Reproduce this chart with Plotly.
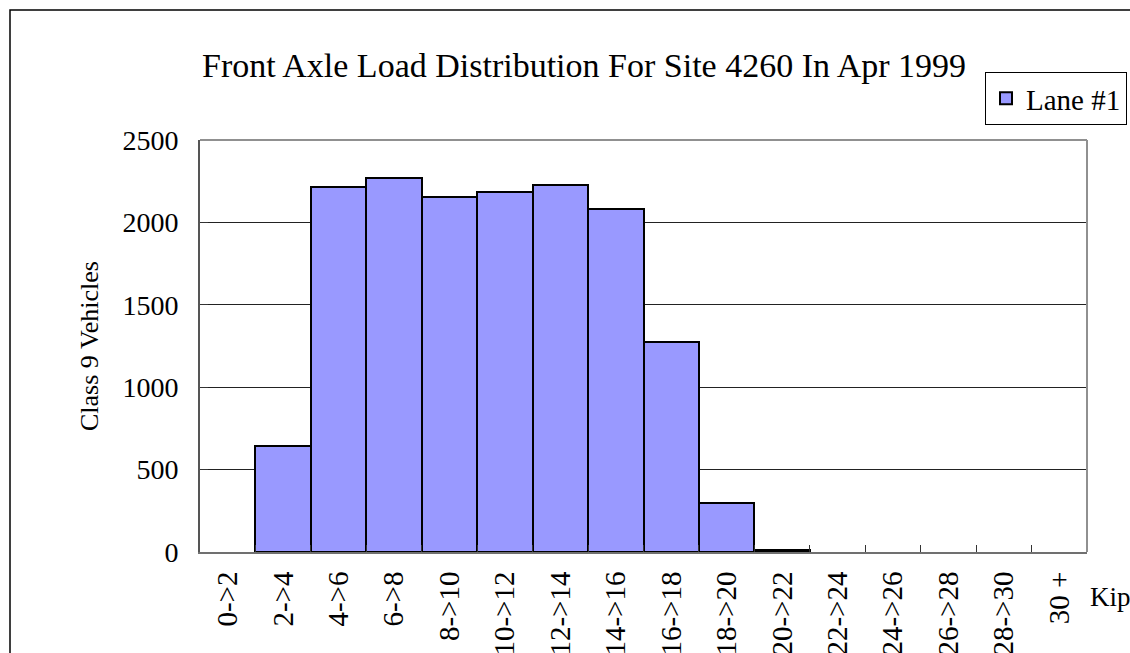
import plotly.graph_objects as go

# load bins (kip) and counts of class 9 vehicles, lane 1
load_bins = ["0->2", "2->4", "4->6", "6->8", "8->10", "10->12", "12->14", "14->16",
             "16->18", "18->20", "20->22", "22->24", "24->26", "26->28", "28->30", "30 +"]
lane1_counts = [0, 645, 2215, 2272, 2155, 2185, 2228, 2082, 1275, 297, 15, 0, 0, 0, 0, 0]
y_ticks = [0, 500, 1000, 1500, 2000, 2500]

serif = "Liberation Serif, Times New Roman, serif"

# empty bins are not drawn (no outline on the axis)
shown = [v if v > 0 else None for v in lane1_counts]

fig = go.Figure()
fig.add_trace(go.Bar(
    x=load_bins, y=shown, name="Lane #1",
    marker=dict(color="#9999FF", line=dict(color="black", width=2)),
))

fig.update_layout(
    width=1130, height=653,
    margin=dict(l=200, r=43, t=140, b=101, autoexpand=False),
    paper_bgcolor="white", plot_bgcolor="white",
    font=dict(family=serif, color="black", size=26),
    bargap=0,
    title=dict(text="Front Axle Load Distribution For Site 4260 In Apr 1999",
               x=584 / 1130, xanchor="center", y=1 - 65 / 653, yanchor="middle",
               font=dict(size=34)),
    showlegend=True,
    legend=dict(xref="container", yref="container",
                x=985 / 1130, y=1 - 72 / 653, xanchor="left", yanchor="top",
                bordercolor="black", borderwidth=1, bgcolor="white",
                font=dict(size=29), itemwidth=30),
    xaxis=dict(
        type="category", tickangle=-90, tickson="boundaries",
        ticks="inside", ticklen=7, tickcolor="#333",
        showline=True, linecolor="#707070", linewidth=2, mirror=False,
        showgrid=False, tickfont=dict(size=29), ticklabelstandoff=6,
        automargin=False,
    ),
    yaxis=dict(
        range=[0, 2500], tickvals=y_ticks,
        ticks="inside", ticklen=8, tickcolor="#333",
        showline=True, linecolor="#555", linewidth=2,
        showgrid=True, gridcolor="#222", gridwidth=1,
        tickfont=dict(size=28), ticklabelstandoff=14,
        title=dict(text="Class 9 Vehicles", font=dict(size=26), standoff=16),
        zeroline=False, automargin=False,
    ),
)

# gray frame top/right of plot area
fig.add_shape(type="line", xref="paper", yref="paper", x0=0, x1=1, y0=1, y1=1,
              line=dict(color="#909090", width=2))
fig.add_shape(type="line", xref="paper", yref="paper", x0=1, x1=1, y0=0, y1=1,
              line=dict(color="#909090", width=2))
# outer chart border (cropped at right/bottom)
fig.add_shape(type="rect", xref="paper", yref="paper",
              x0=(10 - 200) / 887, x1=(1140 - 200) / 887,
              y0=(552 - 665) / 412, y1=(552 - 10) / 412,
              line=dict(color="black", width=1.5), layer="below")

fig.add_annotation(text="Kip", xref="paper", yref="paper",
                   x=(1088 - 200) / 887, y=(552 - 597) / 412,
                   xanchor="left", yanchor="middle", showarrow=False,
                   font=dict(size=27))

fig.write_html("out.html", config={"displayModeBar": False},
               post_script="document.body.style.margin='0';")
